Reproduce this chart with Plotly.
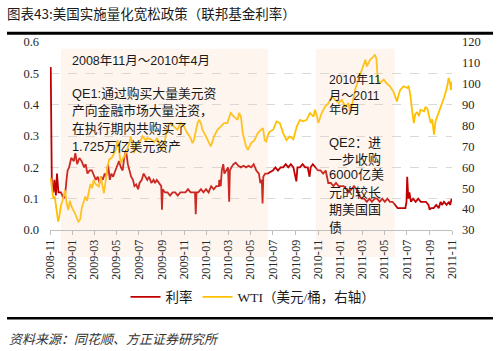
import plotly.graph_objects as go

# ---------------- data ----------------
fed_points = [
    ("2008-11-03", 0.52), ("2008-11-04", 0.30), ("2008-11-06", 0.14), ("2008-11-10", 0.12),
    ("2008-11-13", 0.16), ("2008-11-17", 0.11), ("2008-11-20", 0.18), ("2008-11-24", 0.12),
    ("2008-12-01", 0.12), ("2008-12-08", 0.10), ("2008-12-12", 0.11), ("2008-12-16", 0.16),
    ("2008-12-19", 0.19), ("2008-12-23", 0.20), ("2008-12-29", 0.23), ("2009-01-05", 0.22),
    ("2009-01-09", 0.245), ("2009-01-14", 0.21), ("2009-01-20", 0.23), ("2009-01-26", 0.22),
    ("2009-02-02", 0.20), ("2009-02-06", 0.21), ("2009-02-11", 0.18), ("2009-02-17", 0.19),
    ("2009-02-23", 0.19), ("2009-03-02", 0.17), ("2009-03-06", 0.16), ("2009-03-11", 0.17),
    ("2009-03-16", 0.15), ("2009-03-20", 0.17), ("2009-03-25", 0.16), ("2009-03-30", 0.18),
    ("2009-04-03", 0.17), ("2009-04-08", 0.21), ("2009-04-13", 0.16), ("2009-04-17", 0.18),
    ("2009-04-22", 0.17), ("2009-04-28", 0.19), ("2009-05-04", 0.21), ("2009-05-08", 0.22),
    ("2009-05-13", 0.20), ("2009-05-18", 0.19), ("2009-05-22", 0.23), ("2009-05-27", 0.255),
    ("2009-06-01", 0.21), ("2009-06-05", 0.19), ("2009-06-10", 0.17), ("2009-06-15", 0.16),
    ("2009-06-19", 0.14), ("2009-06-24", 0.145), ("2009-06-29", 0.13), ("2009-07-03", 0.15),
    ("2009-07-09", 0.16), ("2009-07-14", 0.18), ("2009-07-20", 0.17), ("2009-07-24", 0.16),
    ("2009-07-29", 0.17), ("2009-08-04", 0.15), ("2009-08-10", 0.16), ("2009-08-14", 0.15),
    ("2009-08-19", 0.16), ("2009-08-25", 0.15), ("2009-08-31", 0.14), ("2009-09-02", 0.065),
    ("2009-09-04", 0.13), ("2009-09-10", 0.12), ("2009-09-17", 0.12), ("2009-09-24", 0.11),
    ("2009-10-01", 0.12), ("2009-10-08", 0.12), ("2009-10-15", 0.11), ("2009-10-22", 0.12),
    ("2009-10-29", 0.12), ("2009-11-05", 0.12), ("2009-11-12", 0.13), ("2009-11-19", 0.12),
    ("2009-11-26", 0.12), ("2009-12-01", 0.12), ("2009-12-03", 0.05), ("2009-12-05", 0.12),
    ("2009-12-10", 0.12), ("2009-12-17", 0.13), ("2009-12-24", 0.12), ("2009-12-31", 0.13),
    ("2010-01-07", 0.12), ("2010-01-14", 0.14), ("2010-01-21", 0.13), ("2010-01-28", 0.14),
    ("2010-02-04", 0.14), ("2010-02-05", 0.16), ("2010-02-09", 0.14), ("2010-02-12", 0.19),
    ("2010-02-16", 0.21), ("2010-02-19", 0.18), ("2010-02-24", 0.19), ("2010-03-01", 0.20),
    ("2010-03-04", 0.09), ("2010-03-06", 0.19), ("2010-03-10", 0.20), ("2010-03-16", 0.21),
    ("2010-03-22", 0.215), ("2010-03-29", 0.205), ("2010-04-05", 0.20), ("2010-04-12", 0.205),
    ("2010-04-19", 0.20), ("2010-04-26", 0.205), ("2010-05-03", 0.20), ("2010-05-10", 0.21),
    ("2010-05-17", 0.19), ("2010-05-24", 0.18), ("2010-05-28", 0.15), ("2010-06-01", 0.16),
    ("2010-06-03", 0.085), ("2010-06-05", 0.17), ("2010-06-10", 0.18), ("2010-06-17", 0.18),
    ("2010-06-24", 0.185), ("2010-07-01", 0.19), ("2010-07-08", 0.20), ("2010-07-15", 0.19),
    ("2010-07-22", 0.20), ("2010-07-29", 0.20), ("2010-08-05", 0.21), ("2010-08-12", 0.20),
    ("2010-08-19", 0.21), ("2010-08-26", 0.20), ("2010-09-03", 0.155), ("2010-09-06", 0.20),
    ("2010-09-13", 0.20), ("2010-09-20", 0.21), ("2010-09-27", 0.20), ("2010-10-04", 0.20),
    ("2010-10-09", 0.17), ("2010-10-12", 0.20), ("2010-10-18", 0.21), ("2010-10-25", 0.20),
    ("2010-11-01", 0.19), ("2010-11-08", 0.19), ("2010-11-15", 0.18), ("2010-11-22", 0.19),
    ("2010-11-29", 0.15), ("2010-12-06", 0.15), ("2010-12-13", 0.14), ("2010-12-20", 0.15),
    ("2010-12-27", 0.14), ("2011-01-03", 0.14), ("2011-01-10", 0.14), ("2011-01-17", 0.13),
    ("2011-01-24", 0.12), ("2011-01-31", 0.13), ("2011-02-07", 0.14), ("2011-02-14", 0.13),
    ("2011-02-21", 0.11), ("2011-02-28", 0.10), ("2011-03-07", 0.10), ("2011-03-14", 0.09),
    ("2011-03-21", 0.10), ("2011-03-28", 0.09), ("2011-04-04", 0.10), ("2011-04-11", 0.10),
    ("2011-04-18", 0.09), ("2011-04-25", 0.10), ("2011-05-02", 0.09), ("2011-05-09", 0.10),
    ("2011-05-16", 0.09), ("2011-05-23", 0.09), ("2011-05-30", 0.08), ("2011-06-06", 0.07),
    ("2011-06-13", 0.07), ("2011-06-20", 0.07), ("2011-06-27", 0.07), ("2011-06-30", 0.09),
    ("2011-07-02", 0.17), ("2011-07-05", 0.10), ("2011-07-08", 0.12), ("2011-07-12", 0.09),
    ("2011-07-18", 0.10), ("2011-07-25", 0.09), ("2011-08-01", 0.10), ("2011-08-08", 0.09),
    ("2011-08-15", 0.09), ("2011-08-22", 0.09), ("2011-08-29", 0.08), ("2011-09-01", 0.065),
    ("2011-09-05", 0.07), ("2011-09-12", 0.07), ("2011-09-19", 0.08), ("2011-09-26", 0.07),
    ("2011-10-01", 0.09), ("2011-10-05", 0.08), ("2011-10-10", 0.09), ("2011-10-17", 0.08),
    ("2011-10-24", 0.09), ("2011-10-27", 0.08), ("2011-10-31", 0.10),
]

wti_points = [
    ("2008-11-03", 55.0), ("2008-11-06", 49.0), ("2008-11-10", 45.0), ("2008-11-14", 46.0),
    ("2008-11-18", 40.0), ("2008-11-23", 34.0), ("2008-11-26", 36.0), ("2008-12-01", 42.0),
    ("2008-12-05", 44.0), ("2008-12-12", 49.0), ("2008-12-16", 43.0), ("2008-12-21", 39.6),
    ("2008-12-25", 44.0), ("2008-12-30", 41.0), ("2009-01-08", 38.0), ("2009-01-17", 34.0),
    ("2009-01-22", 35.0), ("2009-01-27", 41.0), ("2009-01-31", 43.0), ("2009-02-05", 46.0),
    ("2009-02-10", 44.0), ("2009-02-14", 48.0), ("2009-02-19", 52.0), ("2009-02-24", 50.0),
    ("2009-02-28", 54.0), ("2009-03-05", 52.0), ("2009-03-14", 50.8), ("2009-03-19", 55.6),
    ("2009-03-23", 52.0), ("2009-03-28", 47.6), ("2009-04-02", 54.0), ("2009-04-06", 60.0),
    ("2009-04-11", 63.6), ("2009-04-20", 65.0), ("2009-04-29", 68.4), ("2009-05-04", 73.0),
    ("2009-05-08", 68.0), ("2009-05-13", 62.0), ("2009-05-18", 64.0), ("2009-05-27", 66.8),
    ("2009-06-05", 71.6), ("2009-06-09", 74.8), ("2009-06-14", 71.0), ("2009-06-18", 66.8),
    ("2009-06-23", 70.0), ("2009-07-02", 71.6), ("2009-07-11", 74.8), ("2009-07-20", 73.0),
    ("2009-07-24", 74.0), ("2009-08-02", 73.5), ("2009-08-11", 72.0), ("2009-08-20", 74.0),
    ("2009-08-30", 68.4), ("2009-09-07", 70.0), ("2009-09-17", 79.5), ("2009-09-26", 81.2),
    ("2009-10-05", 79.5), ("2009-10-14", 78.0), ("2009-10-23", 81.2), ("2009-11-01", 79.5),
    ("2009-11-10", 76.4), ("2009-11-19", 74.0), ("2009-11-24", 71.6), ("2009-11-28", 73.0),
    ("2009-12-08", 81.2), ("2009-12-12", 82.7), ("2009-12-17", 81.2), ("2009-12-21", 78.0),
    ("2009-12-26", 76.5), ("2010-01-04", 73.0), ("2010-01-13", 70.0), ("2010-01-22", 74.8),
    ("2010-01-31", 78.0), ("2010-02-09", 79.5), ("2010-02-18", 81.2), ("2010-02-27", 81.2),
    ("2010-03-08", 86.0), ("2010-03-17", 84.3), ("2010-03-27", 82.7), ("2010-03-31", 86.0),
    ("2010-04-05", 84.3), ("2010-04-10", 76.4), ("2010-04-14", 73.0), ("2010-04-19", 70.0),
    ("2010-04-24", 68.4), ("2010-05-03", 71.6), ("2010-05-12", 73.0), ("2010-05-21", 76.4),
    ("2010-05-30", 78.0), ("2010-06-04", 78.8), ("2010-06-09", 73.0), ("2010-06-13", 72.4),
    ("2010-06-18", 75.6), ("2010-06-22", 77.0), ("2010-07-02", 78.0), ("2010-07-11", 82.0),
    ("2010-07-20", 81.2), ("2010-07-29", 76.4), ("2010-08-07", 73.0), ("2010-08-16", 74.8),
    ("2010-08-26", 73.5), ("2010-09-04", 79.5), ("2010-09-13", 82.7), ("2010-09-22", 82.0),
    ("2010-10-01", 82.7), ("2010-10-10", 86.0), ("2010-10-20", 84.3), ("2010-10-24", 87.6),
    ("2010-10-29", 84.3), ("2010-11-02", 81.2), ("2010-11-11", 86.0), ("2010-11-20", 89.0),
    ("2010-11-30", 90.8), ("2010-12-09", 94.0), ("2010-12-18", 92.3), ("2010-12-27", 90.8),
    ("2011-01-05", 92.3), ("2011-01-14", 89.0), ("2011-01-23", 90.8), ("2011-01-28", 86.0),
    ("2011-02-01", 89.0), ("2011-02-10", 97.0), ("2011-02-19", 102.0), ("2011-02-28", 106.7),
    ("2011-03-10", 111.5), ("2011-03-14", 108.3), ("2011-03-23", 111.5), ("2011-04-01", 113.0),
    ("2011-04-05", 114.0), ("2011-04-09", 112.0), ("2011-04-13", 102.0), ("2011-04-19", 100.4),
    ("2011-04-29", 102.0), ("2011-05-08", 100.0), ("2011-05-16", 98.8), ("2011-05-26", 96.0),
    ("2011-05-31", 94.0), ("2011-06-04", 91.5), ("2011-06-09", 95.0), ("2011-06-13", 97.0),
    ("2011-06-22", 98.8), ("2011-07-02", 98.0), ("2011-07-06", 99.0), ("2011-07-11", 94.0),
    ("2011-07-15", 87.6), ("2011-07-20", 81.2), ("2011-07-24", 85.5), ("2011-07-29", 86.3),
    ("2011-08-03", 84.5), ("2011-08-07", 87.6), ("2011-08-17", 86.8), ("2011-08-21", 89.0),
    ("2011-08-26", 88.0), ("2011-08-30", 84.5), ("2011-09-04", 81.2), ("2011-09-08", 83.0),
    ("2011-09-13", 75.6), ("2011-09-17", 82.0), ("2011-09-22", 84.3), ("2011-09-26", 86.0),
    ("2011-10-01", 89.0), ("2011-10-05", 90.5), ("2011-10-10", 93.2), ("2011-10-14", 95.6),
    ("2011-10-19", 98.8), ("2011-10-23", 102.8), ("2011-10-27", 100.0), ("2011-10-29", 97.0),
    ("2011-10-31", 99.0), ("2011-11-01", 101.0),
]

fed_dates = [d for d, _ in fed_points]
fed_rate = [v for _, v in fed_points]
wti_dates = [d for d, _ in wti_points]
wti_price = [v for _, v in wti_points]

series_names = ["利率", "WTI（美元/桶，右轴）"]
qe_periods = [("2008-12-01", "2010-06-18"), ("2010-10-26", "2011-05-29")]
qe1_lines = ["2008年11月～2010年4月", "QE1:通过购买大量美元资", "产向金融市场大量注资，",
             "在执行期内共购买了", "1.725万亿美元资产"]
qe2_lines = ["2010年11", "月～2011", "年6月", "QE2：进", "一步收购", "6000亿美",
             "元的较长", "期美国国", "债"]
title_text = "图表43:美国实施量化宽松政策（联邦基金利率）"
source_text = "资料来源：同花顺、方正证券研究所"

# ---------------- figure ----------------
SERIF = "Liberation Serif, Times New Roman, Noto Sans CJK SC, serif"
CJK = "Noto Sans CJK SC, sans-serif"
NOTE = "Liberation Sans, Noto Sans CJK SC, sans-serif"
RED = "#C00000"
YEL = "#FFC000"
TXT = "#1a1a1a"

fig = go.Figure()
fig.add_trace(go.Scatter(x=fed_dates, y=fed_rate, name=series_names[0], mode="lines",
                         line=dict(color=RED, width=1.8), yaxis="y"))
fig.add_trace(go.Scatter(x=wti_dates, y=wti_price, name=series_names[1], mode="lines",
                         line=dict(color=YEL, width=1.8), yaxis="y2"))

shapes = []
for x0, x1 in qe_periods:
    shapes.append(dict(type="rect", xref="x", yref="paper", x0=x0, x1=x1, y0=0, y1=0.964,
                       fillcolor="#F8CBAD", opacity=0.2, line=dict(width=0), layer="above"))
    shapes.append(dict(type="rect", xref="x", yref="paper", x0=x0, x1=x1, y0=-0.144, y1=0,
                       fillcolor="#F8CBAD", opacity=0.2, line=dict(width=0), layer="below"))
shapes.append(dict(type="line", xref="paper", yref="paper", x0=-0.107, x1=1.102, y0=1.047, y1=1.047,
                   line=dict(color="#000000", width=3)))
shapes.append(dict(type="line", xref="paper", yref="paper", x0=-0.107, x1=1.102, y0=-0.469, y1=-0.469,
                   line=dict(color="#000000", width=2.5)))

annotations = []
qe1_y = [0.897, 0.728, 0.634, 0.542, 0.444]
qe1_size = [12.5, 12.8, 12.8, 12.8, 12.8]
for t, yy, sz in zip(qe1_lines, qe1_y, qe1_size):
    annotations.append(dict(text=t, xref="paper", yref="paper", x=0.05, y=yy, xanchor="left",
                            yanchor="middle", showarrow=False,
                            font=dict(family=NOTE, size=sz, color=TXT)))
qe2_y = [0.799, 0.714, 0.636, 0.467, 0.377, 0.293, 0.199, 0.107, 0.014]
qe2_size = [12.2, 12.2, 12.2, 13, 13, 13, 13, 13, 13]
for t, yy, sz in zip(qe2_lines, qe2_y, qe2_size):
    annotations.append(dict(text=t, xref="paper", yref="paper", x=0.688, y=yy, xanchor="left",
                            yanchor="middle", showarrow=False,
                            font=dict(family=NOTE, size=sz, color=TXT)))
annotations.append(dict(text=source_text, xref="paper", yref="paper", x=-0.107, y=-0.575,
                        xanchor="left", yanchor="middle", showarrow=False,
                        font=dict(family=CJK, size=13, color="#333333", style="italic")))

fig.update_layout(
    width=503, height=351,
    margin=dict(l=50, r=51, t=42, b=121),
    paper_bgcolor="white", plot_bgcolor="white",
    title=dict(text=title_text, x=0.014, xanchor="left", y=0.96, yanchor="middle",
               font=dict(family=CJK, size=13.5, color=TXT)),
    showlegend=True,
    legend=dict(orientation="h", x=0.505, xanchor="center", y=-0.357, yanchor="middle",
                font=dict(family=SERIF, size=13.5, color=TXT), itemwidth=30,
                bgcolor="rgba(0,0,0,0)"),
    xaxis=dict(type="date", range=["2008-11-01", "2011-11-01"], tick0="2008-11-01", dtick="M2",
               tickformat="%Y-%m", tickangle=-90, showgrid=False, showline=True,
               linecolor="#BFBFBF", linewidth=1, ticks="outside", ticklen=4, tickcolor="#BFBFBF",
               tickfont=dict(family=SERIF, size=12, color="#262626"), zeroline=False),
    yaxis=dict(range=[0, 0.6], dtick=0.1, tickformat=".1f", showgrid=True, gridcolor="#D9D9D9",
               griddash="dash", gridwidth=1, zeroline=False, showline=False, ticks="",
               ticklabelstandoff=10,
               tickfont=dict(family=SERIF, size=12.5, color="#262626")),
    yaxis2=dict(range=[30, 120], dtick=10, overlaying="y", side="right", showgrid=False,
                zeroline=False, showline=False, ticks="", ticklabelstandoff=9,
                tickfont=dict(family=SERIF, size=12.5, color="#262626")),
    shapes=shapes,
    annotations=annotations,
)

fig.write_html("out.html")
